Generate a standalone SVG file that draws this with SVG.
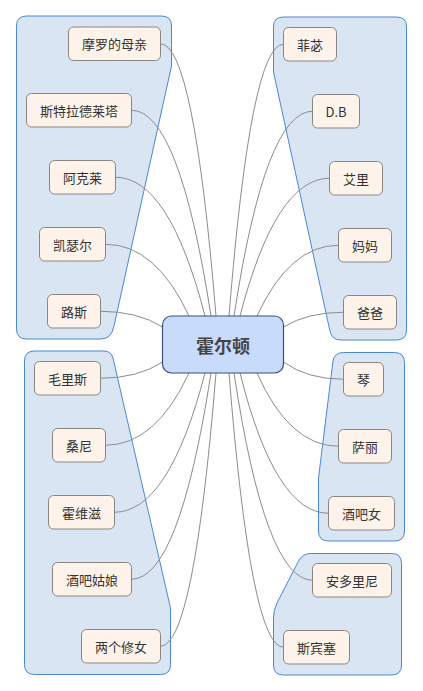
<svg xmlns="http://www.w3.org/2000/svg" width="423" height="691" viewBox="0 0 423 691">
<style>
.grp{fill:#dae5f3;stroke:#4a88d0;stroke-width:1}
.node rect{fill:#fdf3ea;stroke:#8a8580;stroke-width:1}
.node text{font-family:"Noto Sans CJK SC","Noto Sans",sans-serif;font-size:13px;fill:#333;text-anchor:middle;dominant-baseline:central}
.conn path{fill:none;stroke:#8c8c8c;stroke-width:1}
#center rect{fill:#c8dbfb;stroke:#35507f;stroke-width:1.2}
#center text{font-family:"Noto Sans CJK SC","Noto Sans",sans-serif;font-size:18px;font-weight:bold;fill:#444;text-anchor:middle;dominant-baseline:central}
</style>
<rect width="423" height="691" fill="#fff"/>
<g id="boundaries">
<path class="grp" d="M26.5,16 H161.5 Q171.5,16 171.5,26 V66 L114,326 Q111.5,339 101,339 H26.5 Q16.5,339 16.5,329 V26 Q16.5,16 26.5,16 Z"/>
<path class="grp" d="M283.5,17 H396.5 Q406.5,17 406.5,27 V330 Q406.5,340 396.5,340 H341 Q331,340 329.5,329 L273.5,72 V27 Q273.5,17 283.5,17 Z"/>
<path class="grp" d="M34.5,351 H104 Q111,351 113,358 L170.5,608 V664.5 Q170.5,674.5 160.5,674.5 H34.5 Q24.5,674.5 24.5,664.5 V361 Q24.5,351 34.5,351 Z"/>
<path class="grp" d="M343.5,352.5 H394.5 Q404.5,352.5 404.5,362.5 V531 Q404.5,541 394.5,541 H328.5 Q318.5,541 318.5,531 V478 L333,361 Q334.5,352.5 343.5,352.5 Z"/>
<path class="grp" d="M311,553.5 H391.5 Q401.5,553.5 401.5,563.5 V665 Q401.5,675 391.5,675 H283.5 Q273.5,675 273.5,665 V618 Q273.5,610 277,603 L298,562 Q302,553.5 311,553.5 Z"/>
</g>
<g id="connectors" class="conn">
<path d="M160.5,43.75 Q193.8,43.75 216,316"/>
<path d="M131.5,110.25 Q179.2,110.25 211,316"/>
<path d="M115.5,177.25 Q169.2,177.25 205,316"/>
<path d="M105.5,244.25 Q155.6,244.25 189,316"/>
<path d="M100.5,311.25 Q137.7,311.25 162.5,327"/>
<path d="M100.5,378.25 Q137.7,378.25 162.5,362"/>
<path d="M105.5,445.25 Q155.6,445.25 189,373"/>
<path d="M114.5,512.25 Q168.8,512.25 205,373"/>
<path d="M131.5,579.25 Q179.2,579.25 211,373"/>
<path d="M160.5,646.25 Q193.8,646.25 216,373"/>
<path d="M283.5,44.25 Q250.8,44.25 229,316"/>
<path d="M312.5,111.25 Q265.4,111.25 234,316"/>
<path d="M329.5,178.25 Q275.8,178.25 240,316"/>
<path d="M338.5,245.25 Q289.6,245.25 257,316"/>
<path d="M343.5,312.25 Q307.5,312.25 283.5,327"/>
<path d="M343.5,379.25 Q307.5,379.25 283.5,362"/>
<path d="M338.5,446.25 Q289.6,446.25 257,373"/>
<path d="M328.5,513.25 Q275.2,513.25 240,373"/>
<path d="M312.5,580.25 Q265.4,580.25 234,373"/>
<path d="M283.5,647.25 Q250.8,647.25 229,373"/>
</g>
<g id="center"><rect x="162.5" y="316" width="121" height="57" rx="9"/><text x="223" y="344.5">霍尔顿</text></g>
<g id="n1" class="node"><rect x="68.5" y="27" width="92" height="33.5" rx="5"/><text x="114.5" y="43.75">摩罗的母亲</text></g>
<g id="n2" class="node"><rect x="26.5" y="93.5" width="105" height="33.5" rx="5"/><text x="79" y="110.25">斯特拉德莱塔</text></g>
<g id="n3" class="node"><rect x="49.5" y="160.5" width="66" height="33.5" rx="5"/><text x="82.5" y="177.25">阿克莱</text></g>
<g id="n4" class="node"><rect x="39.5" y="227.5" width="66" height="33.5" rx="5"/><text x="72.5" y="244.25">凯瑟尔</text></g>
<g id="n5" class="node"><rect x="47.5" y="294.5" width="53" height="33.5" rx="5"/><text x="74" y="311.25">路斯</text></g>
<g id="n6" class="node"><rect x="34.5" y="361.5" width="66" height="33.5" rx="5"/><text x="67.5" y="378.25">毛里斯</text></g>
<g id="n7" class="node"><rect x="52.5" y="428.5" width="53" height="33.5" rx="5"/><text x="79" y="445.25">桑尼</text></g>
<g id="n8" class="node"><rect x="48.5" y="495.5" width="66" height="33.5" rx="5"/><text x="81.5" y="512.25">霍维滋</text></g>
<g id="n9" class="node"><rect x="52.5" y="562.5" width="79" height="33.5" rx="5"/><text x="92" y="579.25">酒吧姑娘</text></g>
<g id="n10" class="node"><rect x="81.5" y="629.5" width="79" height="33.5" rx="5"/><text x="121" y="646.25">两个修女</text></g>
<g id="n11" class="node"><rect x="283.5" y="27.5" width="53" height="33.5" rx="5"/><text x="310" y="44.25">菲苾</text></g>
<g id="n12" class="node"><rect x="312.5" y="94.5" width="47" height="33.5" rx="5"/><text x="336" y="111.25">D.B</text></g>
<g id="n13" class="node"><rect x="329.5" y="161.5" width="53" height="33.5" rx="5"/><text x="356" y="178.25">艾里</text></g>
<g id="n14" class="node"><rect x="338.5" y="228.5" width="53" height="33.5" rx="5"/><text x="365" y="245.25">妈妈</text></g>
<g id="n15" class="node"><rect x="343.5" y="295.5" width="53" height="33.5" rx="5"/><text x="370" y="312.25">爸爸</text></g>
<g id="n16" class="node"><rect x="343.5" y="362.5" width="40" height="33.5" rx="5"/><text x="363.5" y="379.25">琴</text></g>
<g id="n17" class="node"><rect x="338.5" y="429.5" width="53" height="33.5" rx="5"/><text x="365" y="446.25">萨丽</text></g>
<g id="n18" class="node"><rect x="328.5" y="496.5" width="66" height="33.5" rx="5"/><text x="361.5" y="513.25">酒吧女</text></g>
<g id="n19" class="node"><rect x="312.5" y="563.5" width="79" height="33.5" rx="5"/><text x="352" y="580.25">安多里尼</text></g>
<g id="n20" class="node"><rect x="283.5" y="630.5" width="66" height="33.5" rx="5"/><text x="316.5" y="647.25">斯宾塞</text></g>
</svg>
